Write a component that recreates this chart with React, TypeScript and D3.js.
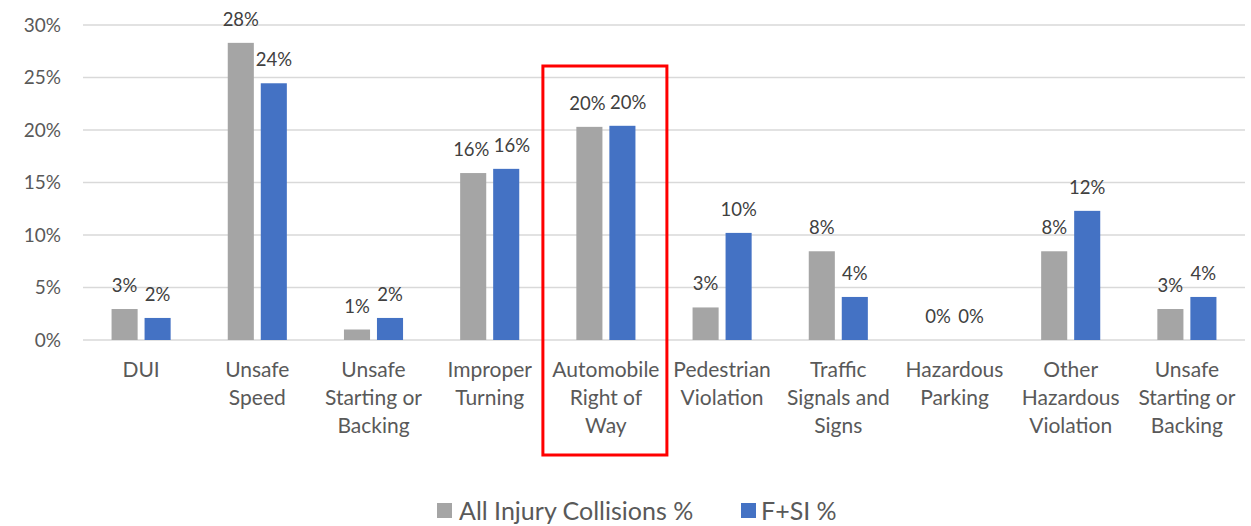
import React from "react";
import * as d3 from "d3";

const categories: string[][] = [
  ["DUI"],
  ["Unsafe", "Speed"],
  ["Unsafe", "Starting or", "Backing"],
  ["Improper", "Turning"],
  ["Automobile", "Right of", "Way"],
  ["Pedestrian", "Violation"],
  ["Traffic", "Signals and", "Signs"],
  ["Hazardous", "Parking"],
  ["Other", "Hazardous", "Violation"],
  ["Unsafe", "Starting or", "Backing"],
];
const allInjury = [2.95, 28.3, 1.0, 15.9, 20.3, 3.1, 8.45, 0, 8.45, 2.95];
const fsi = [2.1, 24.45, 2.1, 16.3, 20.4, 10.2, 4.1, 0, 12.3, 4.1];
const seriesNames = ["All Injury Collisions %", "F+SI %"];
const seriesColors = ["#a5a5a5", "#4472c4"];
const yTicks = [0, 5, 10, 15, 20, 25, 30];
const highlightIndex = 4;

const W = 1251;
const H = 526;
const FONT = "Lato, 'Open Sans', sans-serif";
const LABEL_SIZE = 18.5;

export default function App() {
  const ids = categories.map((_, i) => String(i));
  const x0 = d3.scaleBand<string>().domain(ids).range([83, 1245]).paddingInner(0).paddingOuter(0);
  const x1 = d3
    .scaleBand<string>()
    .domain(["0", "1"])
    .range([0, x0.bandwidth()])
    .paddingInner(0.21)
    .paddingOuter(0.865);
  const y = d3.scaleLinear().domain([0, 30]).range([340, 25]);
  const series = [allInjury, fsi];
  const bw = x1.bandwidth();

  // label positions, pushed apart when two labels in a group would collide
  const labelW = (t: string) => t.length * LABEL_SIZE * 0.66;
  const labelShift = categories.map((_, i) => {
    const t0 = `${Math.round(allInjury[i])}%`;
    const t1 = `${Math.round(fsi[i])}%`;
    const dist = x1("1")! - x1("0")!;
    const need = labelW(t0) / 2 + labelW(t1) / 2 + 4;
    const closeY = Math.abs(y(allInjury[i]) - y(fsi[i])) < 20;
    if (closeY && need > dist) {
      const d = need - dist;
      return [-d * 0.25, d * 0.75];
    }
    return [0, 0];
  });

  const hx0 = x0(String(highlightIndex))!;
  return (
    <svg width={W} height={H} style={{ position: "absolute", left: 0, top: 0, background: "#fff" }}>
      {yTicks.map((t) => (
        <g key={t}>
          <line x1={83} x2={1245} y1={y(t)} y2={y(t)} stroke="#d9d9d9" strokeWidth={1.5} />
          <text
            x={61}
            y={y(t)}
            dy="0.35em"
            textAnchor="end"
            fontFamily={FONT}
            fontSize={19}
            fill="#595959"
          >
            {t}%
          </text>
        </g>
      ))}
      {series.map((vals, s) =>
        vals.map((v, i) => {
          const bx = x0(String(i))! + x1(String(s))!;
          return (
            <g key={`${s}-${i}`}>
              <rect x={bx} y={y(v)} width={bw} height={y(0) - y(v)} fill={seriesColors[s]} />
              <text
                x={bx + bw / 2 + labelShift[i][s]}
                y={y(v) - 17}
                textAnchor="middle"
                fontFamily={FONT}
                fontSize={LABEL_SIZE}
                fill="#404040"
              >
                {Math.round(v)}%
              </text>
            </g>
          );
        })
      )}
      {categories.map((lines, i) => (
        <text
          key={i}
          x={x0(String(i))! + x0.bandwidth() / 2}
          y={377}
          textAnchor="middle"
          fontFamily={FONT}
          fontSize={21}
          fill="#595959"
        >
          {lines.map((l, k) => (
            <tspan key={k} x={x0(String(i))! + x0.bandwidth() / 2} dy={k === 0 ? 0 : 28}>
              {l}
            </tspan>
          ))}
        </text>
      ))}
      <rect
        x={hx0 - 64 + x0.bandwidth() / 2 + 1}
        y={66}
        width={124}
        height={389}
        fill="none"
        stroke="#ff0000"
        strokeWidth={3}
      />
      <g fontFamily={FONT} fontSize={25} fill="#595959">
        <rect x={437} y={503} width={15} height={15} fill={seriesColors[0]} />
        <text x={459} y={520}>{seriesNames[0]}</text>
        <rect x={741} y={503} width={15} height={15} fill={seriesColors[1]} />
        <text x={761} y={520}>{seriesNames[1]}</text>
      </g>
    </svg>
  );
}
